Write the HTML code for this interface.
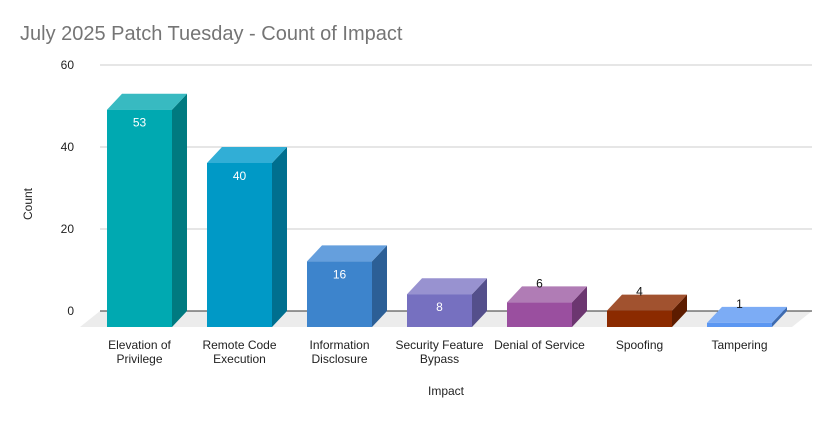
<!DOCTYPE html>
<html><head><meta charset="utf-8"><style>
body{margin:0;background:#fff;font-family:"Liberation Sans",Arial,sans-serif}
svg text{font-family:"Liberation Sans",Arial,sans-serif}
</style></head><body>
<svg id="chart" width="833" height="419" xmlns="http://www.w3.org/2000/svg">
<rect width="833" height="419" fill="#fff"/>
<text x="20" y="40" font-size="20" fill="#757575">July 2025 Patch Tuesday - Count of Impact</text>
<text x="32" y="204" font-size="12" fill="#222" transform="rotate(-90 32 204)" text-anchor="middle">Count</text>
<text x="446" y="395" font-size="12" fill="#222" text-anchor="middle">Impact</text>
<g id="grid"></g><g id="bars"></g>
</svg>
<script>
const categories=["Elevation of\nPrivilege","Remote Code\nExecution","Information\nDisclosure","Security Feature\nBypass","Denial of Service","Spoofing","Tampering"];
const values=[53,40,16,8,6,4,1];
const yTicks=[0,20,40,60];
const frontColors=["#00a9b1","#0099c6","#3d84cc","#7670c0","#9a4f9f","#8b2a00","#5b97f2"];
const topColors=["#38bac1","#31aed6","#659fdd","#9892d0","#b07cb5","#a1522f","#7cacf5"];
const sideColors=["#007a80","#006f8f","#2c5f96","#544f8b","#6c3670","#5d1c00","#3e6bb0"];
const NS="http://www.w3.org/2000/svg";
const base=327, dx=15, dy=16, ppu=4.1;
const y=v=>base-v*ppu;
const xc=i=>139.5+i*100;
const grid=document.getElementById('grid'), bars=document.getElementById('bars');
function mk(tag,attrs,parent){const e=document.createElementNS(NS,tag);for(const k in attrs)e.setAttribute(k,attrs[k]);parent.appendChild(e);return e;}
let fl=mk('polygon',{points:`${80},${base} ${792},${base} ${812},${base-dy} ${100},${base-dy}`,fill:'#ececec'},grid);


yTicks.forEach(t=>{
 const gy=y(t)-dy;
 const l=mk('line',{x1:100,x2:812,y1:gy,y2:gy,stroke:t===0?'#333':'#ccc','stroke-width':1},grid);
 
 
 const tx=mk('text',{x:74,y:gy+4,'font-size':12,fill:'#222','text-anchor':'end'},grid);
 tx.textContent=t;
 
 
});
values.forEach((v,i)=>{
 const g=mk('g',{},bars);
 
 
 const x0=xc(i)-32.5,x1=xc(i)+32.5,yt=y(v);
 mk('polygon',{points:`${x1},${base} ${x1+dx},${base-dy} ${x1+dx},${yt-dy} ${x1},${yt}`,fill:sideColors[i]},g);
 mk('polygon',{points:`${x0},${yt} ${x1},${yt} ${x1+dx},${yt-dy} ${x0+dx},${yt-dy}`,fill:topColors[i]},g);
 mk('rect',{x:x0,y:yt,width:65,height:base-yt,fill:frontColors[i]},g);
 const inside=(base-yt)>25;
 const lt=mk('text',{x:xc(i),y:inside?yt+17:yt-15,'font-size':12,fill:inside?'#fff':'#111','text-anchor':'middle'},g);
 lt.textContent=v;
 
 
 const ct=mk('text',{x:xc(i),y:349,'font-size':12,fill:'#222','text-anchor':'middle'},g);
 
 
 categories[i].split('\n').forEach((s,k)=>{const ts=mk('tspan',{x:xc(i),dy:k?14:0},ct);ts.textContent=s;});
});
</script>
</body></html>
